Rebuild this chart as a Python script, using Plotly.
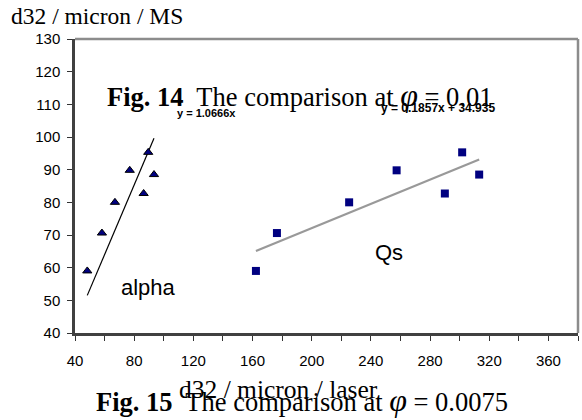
import plotly.graph_objects as go

# ---- data ----
ms_d32 = [59.0, 70.6, 80.0, 89.8, 82.7, 95.3, 88.5]          # d32 / micron / MS
alpha_d32 = [48.3, 58.2, 67.0, 77.0, 86.4, 89.5, 93.4]      # alpha prediction
qs_d32 = [162.3, 176.5, 225.3, 257.4, 290.0, 301.7, 313.2]  # Qs prediction
alpha_slope, alpha_icpt = 1.0666, 0.0
qs_slope, qs_icpt = 0.1857, 34.935
x_major_ticks = [40, 80, 120, 160, 200, 240, 280, 320, 360]
y_ticks = [40, 50, 60, 70, 80, 90, 100, 110, 120, 130]

# ---- layout geometry (pixels) ----
WIDTH, HEIGHT = 582, 420
L, R, T, B = 75, 578, 39, 333
PW, PH = R - L, B - T


def pp(px, py):
    return (px - L) / PW, (B - py) / PH


SERIF = "Times New Roman, Liberation Serif, serif"
SANS = "Arial, Liberation Sans, sans-serif"

fig = go.Figure()

# trendlines
ax_line = [min(alpha_d32), max(alpha_d32)]
fig.add_trace(go.Scatter(
    x=ax_line, y=[alpha_slope * v + alpha_icpt for v in ax_line],
    mode="lines", line=dict(color="black", width=1.2), hoverinfo="skip"))
qx_line = [min(qs_d32), max(qs_d32)]
fig.add_trace(go.Scatter(
    x=qx_line, y=[qs_slope * v + qs_icpt for v in qx_line],
    mode="lines", line=dict(color="#999999", width=2.2), hoverinfo="skip"))

# points
fig.add_trace(go.Scatter(
    x=alpha_d32, y=ms_d32, mode="markers", name="alpha",
    marker=dict(symbol="triangle-up", size=8, color="#000080",
                line=dict(color="black", width=1))))
fig.add_trace(go.Scatter(
    x=qs_d32, y=ms_d32, mode="markers", name="Qs",
    marker=dict(symbol="square", size=8, color="#000080",
                line=dict(color="#000080", width=0))))

annotations = []


def add_text(text, px, py, size, family, xanchor="left", color="black"):
    x, y = pp(px, py)
    annotations.append(dict(
        text=text, x=x, y=y, xref="paper", yref="paper",
        xanchor=xanchor, yanchor="middle", showarrow=False,
        font=dict(size=size, family=family, color=color), borderpad=0))


add_text("d32 / micron / MS", 10, 16, 23.5, SERIF)
add_text("<b>Fig. 14</b>  The comparison at "
         "<span style='font-size:32px'><i>φ</i></span> = 0.01",
         106, 95, 26.5, SERIF)
add_text("<b>y = 1.0666x</b>", 206, 113, 11, SANS, xanchor="center")
add_text("<b>y = 0.1857x + 34.935</b>", 438, 108, 12, SANS, xanchor="center")
add_text("alpha", 148, 287, 22, SANS, xanchor="center")
add_text("Qs", 389, 253, 22, SANS, xanchor="center")
add_text("d32 / micron / laser", 178, 390, 25.5, SERIF)
add_text("<b>Fig. 15</b>  The comparison at "
         "<span style='font-size:32px'><i>φ</i></span> = 0.0075",
         95, 400, 26.5, SERIF)

fig.update_layout(
    width=WIDTH, height=HEIGHT,
    margin=dict(l=L, r=WIDTH - R, t=T, b=HEIGHT - B, pad=0),
    paper_bgcolor="white", plot_bgcolor="white",
    showlegend=False,
    annotations=annotations,
    shapes=[
        dict(type="line", xref="x domain", yref="y domain", x0=0, x1=1, y0=1, y1=1,
             line=dict(color="#8c8c8c", width=2.5)),
        dict(type="line", xref="x domain", yref="y domain", x0=1, x1=1, y0=0, y1=1,
             line=dict(color="#8c8c8c", width=2.5)),
    ],
)

fig.update_xaxes(
    range=[40, 380], tickmode="array", tickvals=x_major_ticks,
    ticktext=[str(v) for v in x_major_ticks],
    ticks="outside", ticklen=5, tickwidth=1, tickcolor="#333333",
    minor=dict(dtick=20, tick0=40, ticks="outside", ticklen=5, tickwidth=1,
               tickcolor="#333333"),
    showline=True, linecolor="#404040", linewidth=2.5,
    showgrid=False, zeroline=False,
    tickfont=dict(family=SANS, size=15, color="black"),
    ticklabelstandoff=7,
)
fig.update_yaxes(
    range=[40, 130], tickmode="array", tickvals=y_ticks,
    ticktext=[str(v) for v in y_ticks],
    ticks="outside", ticklen=5, tickwidth=1, tickcolor="#333333",
    showline=True, linecolor="#404040", linewidth=2.5,
    showgrid=False, zeroline=False,
    tickfont=dict(family=SANS, size=15, color="black"),
    ticklabelstandoff=4,
)

fig.write_html("out.html")
